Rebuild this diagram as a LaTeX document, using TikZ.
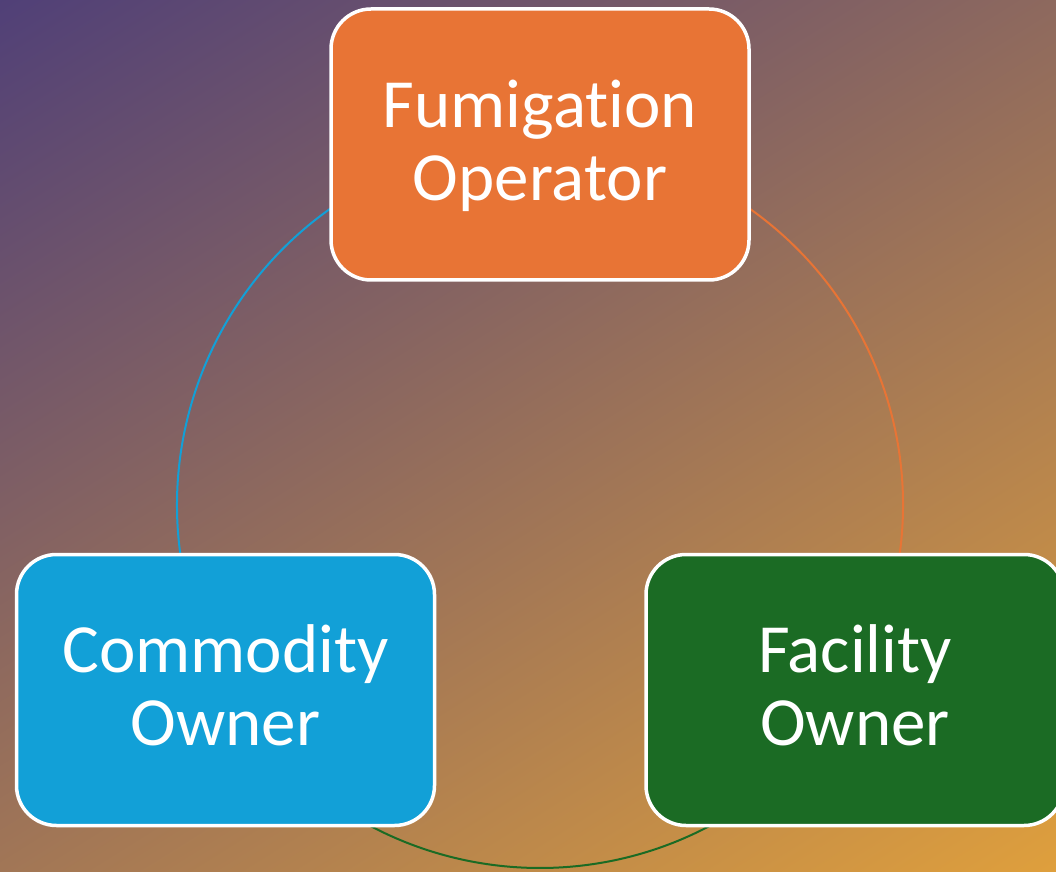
\documentclass[tikz,border=0pt]{standalone}
\usepackage{fontspec}
\setmainfont{Carlito}[Ligatures={NoCommon}]
\usetikzlibrary{calc}
\definecolor{bgA}{HTML}{4F3F78}
\definecolor{bgB}{HTML}{A07560}
\definecolor{bgC}{HTML}{E0A03C}
\definecolor{opOrange}{HTML}{E87435}
\definecolor{coBlue}{HTML}{12A0D7}
\definecolor{faGreen}{HTML}{1B6B24}
\tikzset{
  role/.style={draw=white, line width=3.5pt, rounded corners=40pt,
    minimum width=418pt, minimum height=271pt, inner sep=0pt,
    text=white, align=center, font=\fontsize{69}{73}\selectfont,
    text height=117.4pt, text depth=6pt},
  link/.style={line width=2pt},
}
\begin{document}
\begin{tikzpicture}[x=1pt,y=1pt]
\useasboundingbox (0,0) rectangle (1056,871);
% diagonal background gradient
\begin{scope}
  \clip (0,0) rectangle (1056,871);
  \begin{scope}[transform canvas={rotate around={-58:(528,435.5)}}]
    \shade[left color=bgA, middle color=bgB, right color=bgC]
      (-132,-265) rectangle (1188,1136);
  \end{scope}
\end{scope}
% cycle ring, one coloured arc per role
\coordinate (ctr) at (540,366);
\draw[link, coBlue]   ($(ctr)+(190:363)$) arc[start angle=190, end angle=120, radius=363];
\draw[link, opOrange] ($(ctr)+(60:363)$)  arc[start angle=60,  end angle=-10, radius=363];
\draw[link, faGreen]  ($(ctr)+(-55:363)$) arc[start angle=-55, end angle=-125, radius=363];
% role boxes
\node[role, fill=opOrange] (fum) at (540,726.5) {Fumigation\\Operator};
\node[role, fill=coBlue]   (com) at (225.5,181) {Commodity\\Owner};
\node[role, fill=faGreen]  (fac) at (855,181)   {Facility\\Owner};
\end{tikzpicture}
\end{document}
